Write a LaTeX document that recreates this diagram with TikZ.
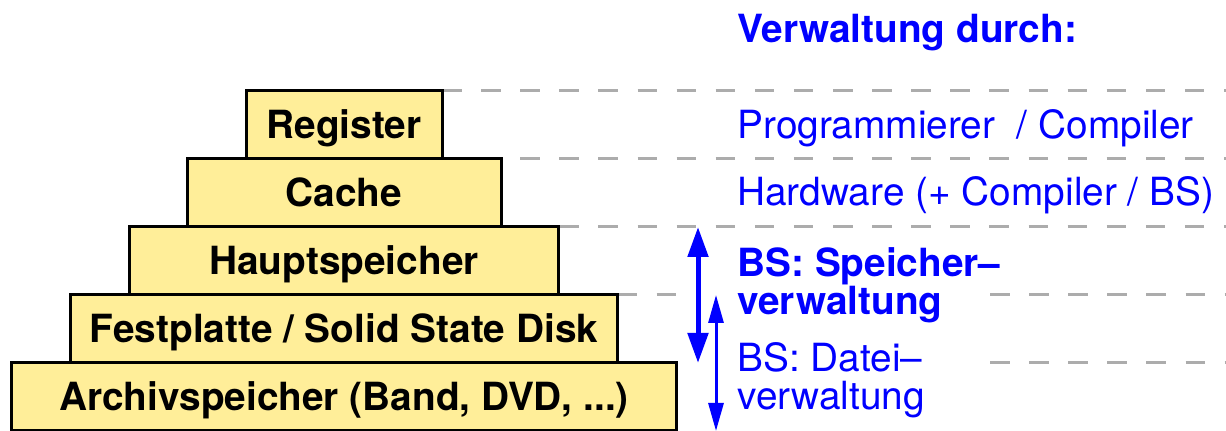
\documentclass[tikz,border=0pt]{standalone}
\usepackage{fontspec}
\setmainfont{TeX Gyre Heros}
\usetikzlibrary{positioning,arrows.meta,backgrounds}
\definecolor{boxyellow}{RGB}{255,238,153}
\definecolor{guidegray}{RGB}{172,172,172}
\newcommand\levelfont{\fontsize{19.4}{19}\selectfont\bfseries}
\newcommand\notefont{\fontsize{19.4}{19}\selectfont}

\begin{document}
\begin{tikzpicture}[x=0.5pt,y=0.5pt,line cap=butt,
	level/.style={draw=black, line width=1.5pt, fill=boxyellow, outer sep=0pt,
		inner sep=0pt, minimum height=34pt, text height=14pt, text depth=0pt, font=\levelfont},
	guide/.style={draw=guidegray, line width=1.5pt, dash pattern=on 9.75pt off 9.8pt},
	note/.style={text=blue, anchor=base west, inner sep=0pt, align=left, font=\notefont},
	boldnote/.style={note, font=\notefont\bfseries}]

\useasboundingbox (0,0) rectangle (1226,431);

% Memory hierarchy, bottom to top
\node[level, minimum width=332.5pt] (archiv) at (344,34) {Archivspeicher (Band, DVD, ...)};
\node[level, minimum width=273.5pt, above=0pt of archiv] (festplatte) {Festplatte / Solid State Disk};
\node[level, minimum width=214.5pt, above=0pt of festplatte] (haupt) {Hauptspeicher};
\node[level, minimum width=157pt, above=0pt of haupt] (cache) {Cache};
\node[level, minimum width=98pt, above=0pt of cache] (register) {Register};

% Where the guide lines stop and start again
\coordinate (rim) at (1226,0);
\coordinate (gapleft) at (682,0);
\coordinate (gapright) at (990,0);

% Dashed guides behind the boxes
\begin{pgfonlayer}{background}
	\foreach \lvl in {register,cache,haupt}
	{
		\draw[guide] (register.east |- \lvl.north) -- (rim |- \lvl.north);
	}
	\draw[guide] (festplatte.north east) -- (gapleft |- festplatte.north);
	\foreach \lvl in {festplatte,archiv}
	{
		\draw[guide] (gapright |- \lvl.north) -- (rim |- \lvl.north);
	}
\end{pgfonlayer}

% Who manages which level (multi-line notes sit on their last baseline)
\node[boldnote] (heading) at (737,388) {Verwaltung durch:};
\node[note] (compiler) at (737,292) {Programmierer \ / Compiler};
\node[note] (hardware) at (737,225) {Hardware (+ Compiler / BS)};
\node[boldnote] (speicherverw) at (737,116) {BS: Speicher–\\verwaltung};
\node[note] (dateiverw) at (737,21) {BS: Datei–\\verwaltung};

% Ranges of the two OS parts
\coordinate (speicherarrow) at (698,0);
\coordinate (dateiarrow) at (716,0);
\draw[blue, line width=2.5pt, {Triangle[length=15pt,width=10pt]}-{Triangle[length=15pt,width=10pt]}]
	(speicherarrow |- haupt.north) -- (speicherarrow |- archiv.north);
\draw[blue, line width=1.5pt, {Triangle[length=14pt,width=7.5pt]}-{Triangle[length=14pt,width=7.5pt]}]
	(dateiarrow |- festplatte.north) -- (dateiarrow |- archiv.south);

\end{tikzpicture}
\end{document}
